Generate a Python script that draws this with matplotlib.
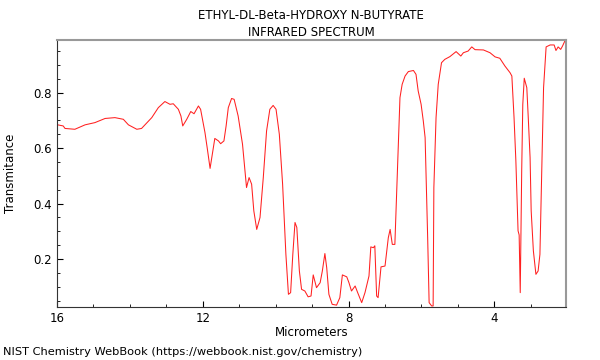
import numpy as np
import matplotlib
matplotlib.use("Agg")
import matplotlib.pyplot as plt
from matplotlib.ticker import MultipleLocator

# values (wavelength in micrometers, transmittance)
wavelength = [15.98, 15.83, 15.78, 15.51, 15.23, 14.96, 14.68, 14.41, 14.18, 14.04,
              13.81, 13.68, 13.40, 13.22, 13.04, 12.90, 12.81, 12.67, 12.60, 12.55,
              12.44, 12.33, 12.24, 12.12, 12.06, 11.94, 11.88, 11.80, 11.74, 11.67,
              11.57, 11.51, 11.42, 11.36, 11.30, 11.21, 11.14, 11.03, 10.91, 10.80,
              10.73, 10.66, 10.60, 10.52, 10.43, 10.34, 10.25, 10.16, 10.07, 9.99,
              9.90, 9.81, 9.72, 9.65, 9.59, 9.53, 9.47, 9.42, 9.35, 9.29,
              9.20, 9.11, 9.03, 8.97, 8.88, 8.78, 8.72, 8.65, 8.60, 8.54,
              8.45, 8.33, 8.24, 8.17, 8.05, 7.99, 7.92, 7.82, 7.75, 7.64,
              7.55, 7.44, 7.39, 7.32, 7.28, 7.23, 7.19, 7.11, 7.00, 6.91,
              6.86, 6.80, 6.73, 6.68, 6.64, 6.59, 6.53, 6.45, 6.36, 6.22,
              6.15, 6.09, 6.01, 5.95, 5.90, 5.83, 5.79, 5.72, 5.68, 5.66,
              5.60, 5.54, 5.45, 5.36, 5.22, 5.05, 4.92, 4.85, 4.72, 4.62,
              4.53, 4.30, 4.12, 3.98, 3.85, 3.71, 3.57, 3.52, 3.46, 3.41,
              3.35, 3.32, 3.29, 3.25, 3.22, 3.18, 3.11, 3.07, 3.02, 2.99,
              2.93, 2.86, 2.80, 2.75, 2.70, 2.65, 2.58, 2.47, 2.36, 2.31,
              2.25, 2.18, 2.13, 2.06]
transmittance = [0.684, 0.680, 0.671, 0.668, 0.684, 0.692, 0.707, 0.710, 0.704, 0.684,
                 0.668, 0.671, 0.710, 0.746, 0.768, 0.758, 0.760, 0.740, 0.716, 0.680,
                 0.704, 0.732, 0.724, 0.752, 0.740, 0.656, 0.602, 0.527, 0.578, 0.635,
                 0.626, 0.616, 0.626, 0.680, 0.746, 0.779, 0.776, 0.716, 0.614, 0.458,
                 0.494, 0.470, 0.374, 0.307, 0.350, 0.494, 0.662, 0.740, 0.754, 0.740,
                 0.650, 0.470, 0.217, 0.073, 0.079, 0.217, 0.332, 0.314, 0.157, 0.091,
                 0.085, 0.064, 0.067, 0.143, 0.097, 0.115, 0.157, 0.220, 0.169, 0.073,
                 0.037, 0.034, 0.061, 0.143, 0.136, 0.115, 0.085, 0.103, 0.079, 0.043,
                 0.079, 0.139, 0.244, 0.241, 0.248, 0.067, 0.061, 0.172, 0.175, 0.277,
                 0.307, 0.253, 0.253, 0.446, 0.602, 0.782, 0.830, 0.860, 0.876, 0.880,
                 0.866, 0.806, 0.758, 0.698, 0.638, 0.277, 0.043, 0.031, 0.031, 0.458,
                 0.710, 0.830, 0.908, 0.920, 0.930, 0.948, 0.932, 0.944, 0.950, 0.965,
                 0.955, 0.954, 0.944, 0.929, 0.924, 0.896, 0.872, 0.860, 0.710, 0.554,
                 0.302, 0.287, 0.079, 0.518, 0.758, 0.852, 0.818, 0.710, 0.566, 0.374,
                 0.230, 0.145, 0.157, 0.217, 0.518, 0.818, 0.965, 0.972, 0.972, 0.952,
                 0.965, 0.956, 0.968, 0.988]

fig = plt.figure(figsize=(6, 3.6), dpi=100)
ax = fig.add_axes([0.095, 0.147, 0.848, 0.742])

ax.plot(wavelength, transmittance, color="#ff2020", linewidth=0.75)

ax.set_xlim(16.0, 2.04)
ax.set_ylim(0.027, 0.99)
ax.xaxis.set_major_locator(MultipleLocator(4))
ax.xaxis.set_minor_locator(MultipleLocator(1))
ax.yaxis.set_major_locator(MultipleLocator(0.2))
ax.yaxis.set_minor_locator(MultipleLocator(0.05))
ax.tick_params(which="both", direction="in", labelsize=8.5, top=False, right=False)
ax.tick_params(which="major", length=4)
ax.tick_params(which="minor", length=2.5)
ax.xaxis.set_major_formatter(plt.FuncFormatter(lambda v, p: f"{v:g}"))

for s in ("top", "right"):
    ax.spines[s].set_color("#999999")
    ax.spines[s].set_linewidth(1.5)
for s in ("left", "bottom"):
    ax.spines[s].set_color("#333333")

ax.set_xlabel("Micrometers", fontsize=8.5, labelpad=1)
ax.set_ylabel("Transmitance", fontsize=8.5, labelpad=12)
ax.set_title("ETHYL-DL-Beta-HYDROXY N-BUTYRATE\nINFRARED SPECTRUM", fontsize=8.5, pad=3,
             linespacing=1.4)

fig.text(0.005, 0.022, "NIST Chemistry WebBook (https://webbook.nist.gov/chemistry)",
         fontsize=8.2, ha="left", va="center")

fig.savefig("out.png", dpi=100)
